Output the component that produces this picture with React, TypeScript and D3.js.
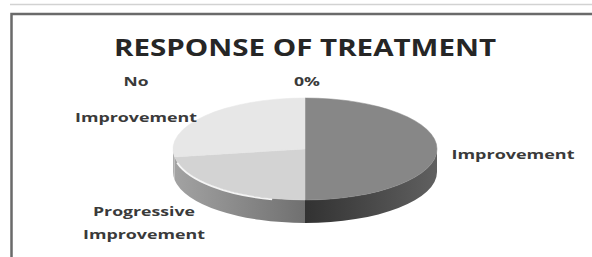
import React, { useEffect, useRef } from 'react';
import * as d3 from 'd3';

// slices, clockwise from 12 o'clock (Excel order)
const categories = ['Improvement', 'Progressive Improvement', 'No Improvement', 'Other'];
const values = [50, 22.5, 27.5, 0];
const labelLines = [['Improvement'], ['Progressive', 'Improvement'], ['No', 'Improvement'], ['0%']];

const topColors = ['#878787', '#d3d3d3', '#e7e7e7', '#bdbdbd'];
const sideDark = ['#323232', '#707070', '#8a8a8a', '#777777'];
const sideLight = ['#606060', '#a3a3a3', '#b0b0b0', '#999999'];

// label anchors: [x, baseline of first line, line widths]
const labelPos: [number, number, number[]][] = [
  [513, 159, [123]],
  [144, 216, [102, 122]],
  [136, 86, [25, 122]],
  [307, 86, [26]],
];

export default function App() {
  const ref = useRef<SVGSVGElement>(null);

  useEffect(() => {
    const W = 592, H = 257;
    const cx = 305, cy = 149, rx = 132, ry = 51, depth = 23;
    const svg = d3.select(ref.current);
    svg.selectAll('*').remove();

    const defs = svg.append('defs');

    // frame
    svg.append('line').attr('x1', 10).attr('x2', W).attr('y1', 4.5).attr('y2', 4.5)
      .attr('stroke', '#d2d2d2').attr('stroke-width', 1.5);
    svg.append('rect').attr('x', 11.5).attr('y', 14).attr('width', W + 20).attr('height', H + 20)
      .attr('fill', 'none').attr('stroke', '#6a6a6a').attr('stroke-width', 2.5);

    svg.append('text')
      .attr('x', cx).attr('y', 56)
      .attr('text-anchor', 'middle')
      .attr('font-family', '"Open Sans", sans-serif')
      .attr('font-weight', 700)
      .attr('font-size', 23)
      .attr('fill', '#262626')
      .attr('textLength', 382)
      .attr('lengthAdjust', 'spacingAndGlyphs')
      .text('RESPONSE OF TREATMENT');

    const pie = d3.pie<number>().sort(null).value(d => d);
    const arcs = pie(values);

    const pt = (a: number, dy = 0) => [cx + rx * Math.sin(a), cy - ry * Math.cos(a) + dy];
    const f = (p: number[]) => `${p[0].toFixed(2)},${p[1].toFixed(2)}`;

    // gradients for side walls
    arcs.forEach((d, i) => {
      const g = defs.append('linearGradient').attr('id', 'side' + i)
        .attr('gradientUnits', 'userSpaceOnUse')
        .attr('x1', cx).attr('x2', i === 0 ? cx + rx : cx - rx).attr('y1', 0).attr('y2', 0);
      g.append('stop').attr('offset', 0).attr('stop-color', sideDark[i]);
      g.append('stop').attr('offset', 1).attr('stop-color', sideLight[i]);
    });

    // side walls (front half only)
    const sides = svg.append('g');
    arcs.forEach((d, i) => {
      const a0 = Math.max(d.startAngle, Math.PI / 2);
      const a1 = Math.min(d.endAngle, (3 * Math.PI) / 2);
      if (a1 <= a0) return;
      const large = a1 - a0 > Math.PI ? 1 : 0;
      const path = `M${f(pt(a0))} A${rx},${ry} 0 ${large} 1 ${f(pt(a1))} L${f(pt(a1, depth))} A${rx},${ry} 0 ${large} 0 ${f(pt(a0, depth))} Z`;
      sides.append('path').attr('d', path).attr('fill', `url(#side${i})`);
    });

    // top faces
    const tops = svg.append('g');
    arcs.forEach((d, i) => {
      if (d.endAngle - d.startAngle <= 0) return;
      const large = d.endAngle - d.startAngle > Math.PI ? 1 : 0;
      const path = `M${cx},${cy} L${f(pt(d.startAngle))} A${rx},${ry} 0 ${large} 1 ${f(pt(d.endAngle))} Z`;
      tops.append('path').attr('d', path).attr('fill', topColors[i])
        .attr('stroke', topColors[i]).attr('stroke-width', 0.5);
    });

    // white rim highlight on the front-left edge
    const h0 = Math.PI * 1.08, h1 = Math.PI * 1.42;
    svg.append('path')
      .attr('d', `M${f(pt(h0, 1))} A${rx},${ry} 0 0 1 ${f(pt(h1, 1))}`)
      .attr('fill', 'none').attr('stroke', '#ffffff').attr('stroke-width', 1.8).attr('opacity', 0.9);

    // labels
    const lab = svg.append('g')
      .attr('font-family', '"Open Sans", sans-serif')
      .attr('font-weight', 700)
      .attr('font-size', 13)
      .attr('fill', '#3a3a3a')
      .attr('text-anchor', 'middle');
    labelLines.forEach((lines, i) => {
      const [x, y, widths] = labelPos[i];
      lines.forEach((t, j) => {
        lab.append('text')
          .attr('x', x).attr('y', y + j * (i === 2 ? 36 : 23))
          .attr('textLength', widths[j])
          .attr('lengthAdjust', 'spacingAndGlyphs')
          .text(t);
      });
    });
  }, []);

  return (
    <svg ref={ref} width={592} height={257}
      style={{ position: 'absolute', left: 0, top: 0, background: '#fff' }} />
  );
}
